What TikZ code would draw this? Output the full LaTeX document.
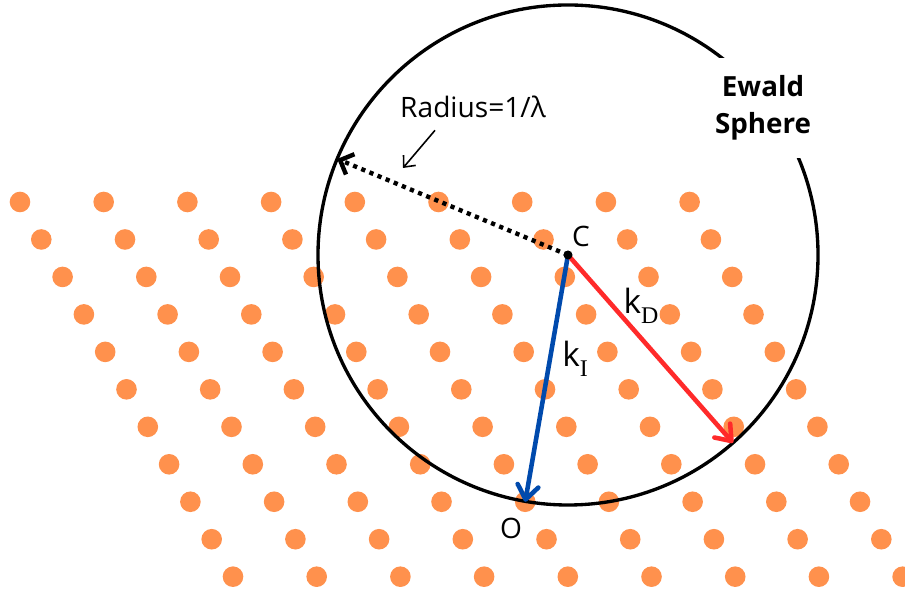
\documentclass[tikz,border=0pt]{standalone}
\usepackage{fontspec}
\setmainfont{Open Sans}
\newfontfamily\subserif{Liberation Serif}
\usetikzlibrary{arrows.meta, positioning, calc}
\definecolor{DotOrange}{HTML}{FF914D}
\definecolor{KBlue}{HTML}{004AAD}
\definecolor{KRed}{HTML}{FF2A2A}
\newcommand{\ksub}[1]{k\raisebox{-0.55ex}{\fontsize{6.8}{8}\subserif #1}}

\begin{document}
\begin{tikzpicture}[
    latdot/.style={fill=DotOrange},
    vec/.style={line width=1.3pt, line cap=round, -{Straight Barb[length=1.4mm, width=2.1mm, round]}},
    lbl/.style={font=\fontsize{8}{9.6}\selectfont},
    klbl/.style={font=\fontsize{9.5}{11}\selectfont, inner sep=1pt},
  ]
  \useasboundingbox (-5.68, 2.55) rectangle (3.37, -3.38);

  % reciprocal lattice points
  \foreach \i in {0,...,10}
    \foreach \k in {0,...,8}
      \fill[latdot] ({-5.48+0.213*\i+0.837*\k}, {0.53-0.3747*\i}) circle (0.103);

  % sphere and its points
  \coordinate (C) at (0,0);
  \coordinate (O) at (-0.428,-2.468);
  \coordinate (kdtip) at (-48.7:2.5);
  \coordinate (radtip) at (157.4:2.5);
  \coordinate (radpt) at (-1.65,0.87);
  \draw[line width=0.95pt] (C) circle (2.5);

  \node[font=\bfseries\fontsize{7.9}{10.5}\selectfont, fill=white, align=center, inner xsep=3pt, inner ysep=5pt] (ewald) at (1.95,1.47) {Ewald\\Sphere};

  % radius
  \draw[line width=1.25pt, dash pattern=on 1.2pt off 1.3pt, -{Straight Barb[length=1.1mm, width=2.2mm]}] (C) -- (radtip);
  \node[lbl] (radius) at (-0.95,1.48) {Radius=1/λ};
  \draw[line width=0.45pt, -{Straight Barb[length=0.9mm, width=1.6mm]}] ([xshift=-0.38cm]radius.south) -- (radpt);

  % wave vectors
  \draw[vec, KBlue] (C) -- (O);
  \draw[vec, KRed] (C) -- (kdtip);
  \fill (C) circle (0.045);

  \node[lbl] (clabel) at (0.13,0.19) {C};
  \node[lbl] (olabel) at (-0.57,-2.73) {O};
  \node[klbl] (kd) at (0.73,-0.51) {\ksub{D}};
  \node[klbl] (ki) at (0.07,-1.04) {\ksub{I}};
\end{tikzpicture}
\end{document}
